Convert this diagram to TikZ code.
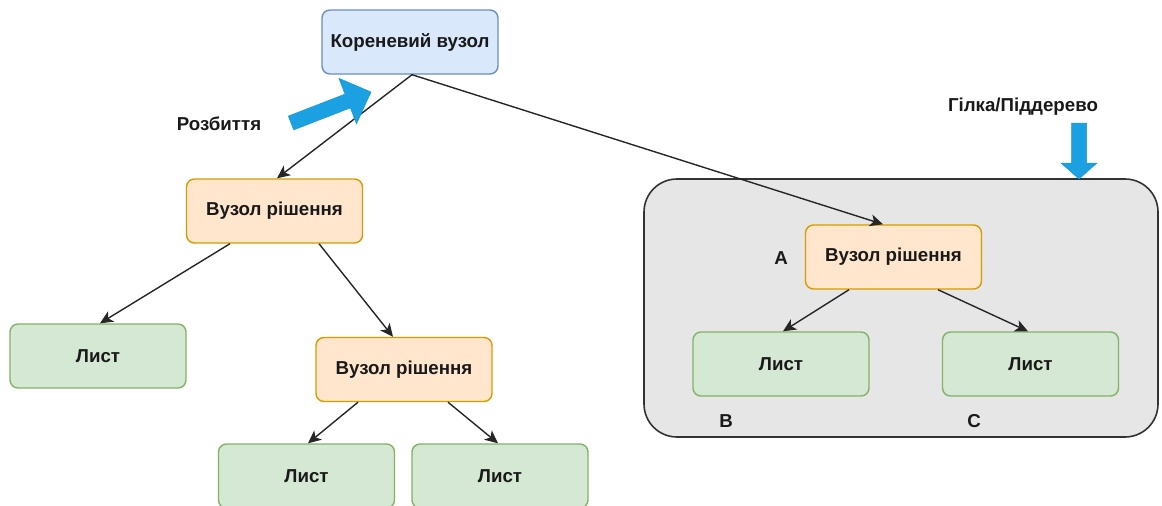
\documentclass[tikz,border=0pt]{standalone}
\usepackage{fontspec}
\setmainfont{Liberation Sans}
\usetikzlibrary{arrows.meta,calc}
\definecolor{rootfill}{HTML}{DAE8FC}
\definecolor{rootline}{HTML}{6C8EBF}
\definecolor{decfill}{HTML}{FFE6CC}
\definecolor{decline}{HTML}{D79B00}
\definecolor{leaffill}{HTML}{D5E8D4}
\definecolor{leafline}{HTML}{82B366}
\definecolor{boxfill}{HTML}{E6E6E6}
\definecolor{boxline}{HTML}{333333}
\definecolor{bluefill}{HTML}{1BA1E2}
\definecolor{blueline}{HTML}{1A97D6}
\begin{document}
\begin{tikzpicture}[x=1pt,y=-1pt,
  every node/.style={font=\bfseries\fontsize{18.7}{22}\selectfont, text=black!90},
  basebox/.style={rounded corners=8pt, line width=1.4pt, minimum width=176pt, minimum height=64pt, inner sep=0pt},
  rootbox/.style={basebox, draw=rootline, fill=rootfill},
  decbox/.style={basebox, draw=decline, fill=decfill},
  leafbox/.style={basebox, draw=leafline, fill=leaffill},
  branchbox/.style={draw=boxline, fill=boxfill, line width=1.6pt, rounded corners=33pt, minimum width=514pt, minimum height=258pt, inner sep=0pt},
  conn/.style={draw=black!85, line width=1.4pt, -{Stealth[length=13pt,width=12pt,inset=3.5pt]}},
  bluearrow/.style={fill=bluefill, draw=blueline, line width=0.5pt}
]
\useasboundingbox (0,0) rectangle (1162,506);

% container for the branch
\node[branchbox] (branch) at (901,308) {};

% nodes
\node[rootbox] (root) at (410,42) {Кореневий вузол};
\node[decbox] (dec1) at (274.5,211) {Вузол рішення};
\node[leafbox] (leaf1) at (98,356) {Лист};
\node[decbox] (dec2) at (404,369.5) {Вузол рішення};
\node[leafbox] (leaf2) at (306.5,476) {Лист};
\node[leafbox] (leaf3) at (500,476) {Лист};
\node[decbox] (decA) at (893.5,257) {Вузол рішення};
\node[leafbox] (leafB) at (781,364) {Лист};
\node[leafbox] (leafC) at (1030.5,364) {Лист};

% labels
\node (labA) at (781,258) {A};
\node (labB) at (726,421) {B};
\node (labC) at (974,421) {C};
\node (split) at (219,124) {Розбиття};
\node (branchlabel) at (1023,107) {Гілка/Піддерево};

% connectors
\draw[conn] ([xshift=2pt]root.south) -- ([xshift=2.5pt]dec1.north);
\draw[conn] ([xshift=2pt]root.south) -- ([xshift=-10.5pt]decA.north);
\draw[conn] ([xshift=-44.5pt]dec1.south) -- ([xshift=2pt]leaf1.north);
\draw[conn] ([xshift=44.5pt]dec1.south) -- ([xshift=-11pt]dec2.north);
\draw[conn] ([xshift=-46pt]dec2.south) -- ([xshift=1.5pt]leaf2.north);
\draw[conn] ([xshift=44pt]dec2.south) -- ([xshift=-2pt]leaf3.north);
\draw[conn] ([xshift=-44.5pt]decA.south) -- ([xshift=2pt]leafB.north);
\draw[conn] ([xshift=44.5pt]decA.south) -- ([xshift=-2.5pt]leafC.north);

% blue block arrows
\filldraw[bluearrow] (288.3,116.1) -- (345.0,94.1) -- (338.9,78.3) -- (371,92) -- (356.5,123.8) -- (350.4,107.9) -- (293.7,129.9) -- cycle;
\filldraw[bluearrow] (1071.5,123) -- (1086.5,123) -- (1086.5,163) -- (1097,163) -- (1079,179) -- (1061,163) -- (1071.5,163) -- cycle;
\end{tikzpicture}
\end{document}
